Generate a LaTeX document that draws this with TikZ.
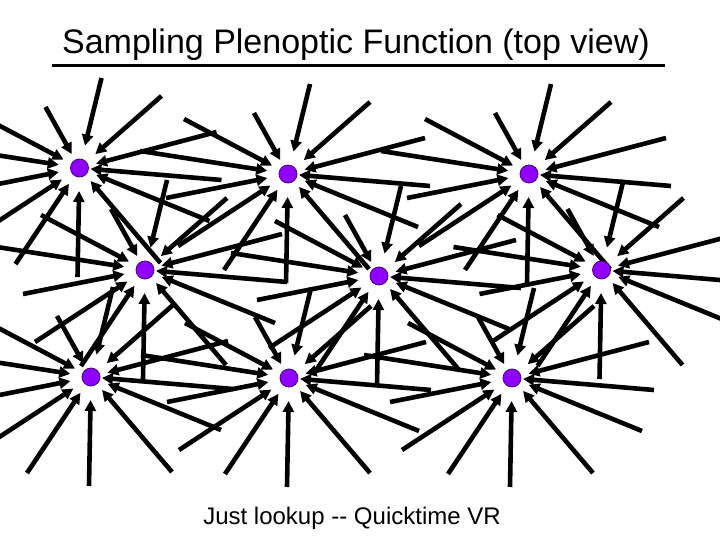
\documentclass[tikz,border=0pt]{standalone}
\usepackage{fontspec}
\setmainfont{Liberation Sans}
\usetikzlibrary{calc,arrows.meta}
\pgfdeclarelayer{fond}
\pgfsetlayers{fond,main}
\definecolor{violetpt}{RGB}{143,0,255}
\definecolor{violetbord}{RGB}{70,0,120}
\tikzset{
	echant/.style={circle,fill=violetpt,draw=violetbord,line width=0.8pt,minimum size=18pt,inner sep=0pt},
	rayon/.style={line width=4.6pt,-{Triangle[length=11pt,width=11pt]}}
}

\begin{document}
\begin{tikzpicture}[x=1pt,y=-1pt]
	% motif des rayons autour d'un point : dx/dy du depart, distance de la pointe (px)
	\def\motif{-2/109/23,-64/96/19,81/95/17,-110/72/21,130/53/18,142/12/11,-122/24/21,137/-36/17,-104/-55/18,82/-72/21,22/-90/23,-34/-61/16,-148/-23/21}
\useasboundingbox (0,0) rectangle (720,540);
\clip (0,0) rectangle (720,540);

%Titre
\node[font=\fontsize{34}{40}\selectfont,anchor=base] (titre) at (356,54) {Sampling Plenoptic Function (top view)};
\coordinate (ligneG) at (52,66);
\coordinate (ligneD) at (665,66);
\draw[line width=3pt] (ligneG) -- (ligneD);

%Points d'echantillonnage
\node[echant] (s1) at (79.5,168) {};
\node[echant] (s2) at (288,174) {};
\node[echant] (s3) at (529,174) {};
\node[echant] (s4) at (145,270) {};
\node[echant] (s5) at (379,276) {};
\node[echant] (s6) at (601.5,270) {};
\node[echant] (s7) at (91,377) {};
\node[echant] (s8) at (289,378) {};
\node[echant] (s9) at (512,378) {};

%Rayons
\begin{pgfonlayer}{fond}
\foreach \k in {1,...,9} {
	\foreach \dx/\dy/\g [count=\r] in \motif {
		\coordinate (s\k-\r) at ([shift={(\dx,\dy)}]s\k.center);
		\draw[rayon,shorten >=\g pt-9.4pt] (s\k-\r) -- (s\k);
	}
}
\end{pgfonlayer}

%Legende
\node[font=\fontsize{24}{28}\selectfont,anchor=base] (legende) at (352,524) {Just lookup -{}- Quicktime VR};

\end{tikzpicture}
\end{document}
